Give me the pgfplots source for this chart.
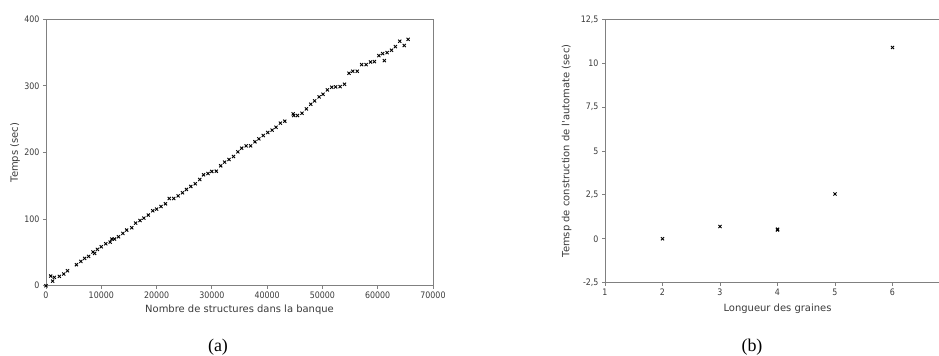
\documentclass[border=0pt]{standalone}
\usepackage{pgfplots}
\pgfplotsset{compat=1.18}
\usepackage{fontspec}
\setmainfont{Liberation Serif}
\newfontfamily\axfont{DejaVu Sans}
\newfontfamily\tkfont[FakeStretch=0.88]{DejaVu Sans}
\definecolor{axgray}{HTML}{808080}
\definecolor{txtgray}{HTML}{3A3A3A}
\begin{document}
\begin{tikzpicture}
\useasboundingbox (0bp,0bp) rectangle (939bp,356bp);
\pgfplotsset{
  myaxis/.style={
    scale only axis,
    axis line style={axgray, line width=0.9bp},
    tick style={axgray, line width=0.8bp},
    major tick length=3bp,
    tick align=outside,
    tick pos=left,
    every tick label/.append style={font=\tkfont\fontsize{9}{10}\selectfont, text=txtgray},
    label style={font=\axfont\fontsize{10}{11}\selectfont, text=txtgray},
    /pgf/number format/assume math mode=true,
    clip=false,
  }
}
\begin{axis}[myaxis,
  at={(46bp,70.3bp)}, anchor=south west,
  width=387bp, height=266.4bp,
  xmin=0, xmax=70000, ymin=0, ymax=400,
  xtick={0,10000,...,70000}, ytick={0,100,...,400},
  scaled x ticks=false,
  /pgf/number format/1000 sep={},
  xlabel={Nombre de structures dans la banque},
  ylabel={Temps (sec)},
  xlabel style={at={(axis description cs:0.5,-0.09)}, anchor=center},
  ylabel style={at={(axis description cs:-0.080,0.5)}, anchor=center},
]
\addplot[only marks, mark=x, mark size=2.2bp, black, line width=0.9bp] coordinates {
(0,0) (845,14.5) (1200,7) (1500,12.5) (2400,14) (3200,17.5) (3900,22.5)
(5500,31.5) (6300,36.5) (7000,41) (7700,44) (8500,50.5) (8800,48.5) (9300,54.5)
(10000,58.5) (10800,63) (11600,65.5) (11900,70) (12400,70) (13100,73.5) (13900,78.5)
(14600,83.5) (15500,87) (16200,94) (17000,98) (17700,101.5) (18500,106) (19300,112.5)
(20000,115) (20800,119) (21600,123) (22300,131) (23100,131) (23900,135) (24700,139.5)
(25400,144.5) (26200,149) (27000,153) (27800,159.5) (28500,166.5) (29300,168.5)
(30000,171.5) (30800,172) (31600,180) (32300,185.5) (33100,189.5) (33900,194)
(34700,201) (35400,206.5) (36200,210) (37000,210) (37800,216) (38500,220.5)
(39300,225.5) (40100,230) (40900,233.5) (41600,238) (42400,244) (43200,247)
(44700,258) (44800,255.5) (45500,255.5) (46300,259) (47100,265.5) (47900,272.5)
(48600,277.5) (49400,283.5) (50100,287.5) (50900,294) (51700,298) (52400,298.5)
(53200,299) (54000,302.5) (54800,319) (55500,322) (56300,322) (57100,332)
(57900,332) (58700,336) (59400,336.5) (60200,345.5) (60900,348.5) (61200,338)
(61700,350) (62500,353.5) (63200,359) (64000,367) (64800,360.5) (65500,370)
};
\end{axis}
\begin{axis}[myaxis,
  at={(605bp,73.3bp)}, anchor=south west,
  width=345bp, height=263.4bp,
  xmin=1, xmax=7, ymin=-2.5, ymax=12.5,
  xtick={1,2,...,6}, ytick={-2.5,0,2.5,5,7.5,10,12.5},
  /pgf/number format/use comma,
  xlabel={Longueur des graines},
  ylabel={Temsp de construction de l'automate (sec)},
  xlabel style={at={(axis description cs:0.5,-0.10)}, anchor=center},
  ylabel style={at={(axis description cs:-0.111,0.5)}, anchor=center},
]
\addplot[only marks, mark=x, mark size=2.2bp, black, line width=0.9bp] coordinates {
(2,0) (3,0.7) (4,0.55) (4,0.5) (5,2.55) (6,10.9)
};
\end{axis}
\node[font=\fontsize{18}{20}\selectfont] at (218bp,9bp) {(a)};
\node[font=\fontsize{18}{20}\selectfont] at (752bp,9bp) {(b)};
\end{tikzpicture}
\end{document}
